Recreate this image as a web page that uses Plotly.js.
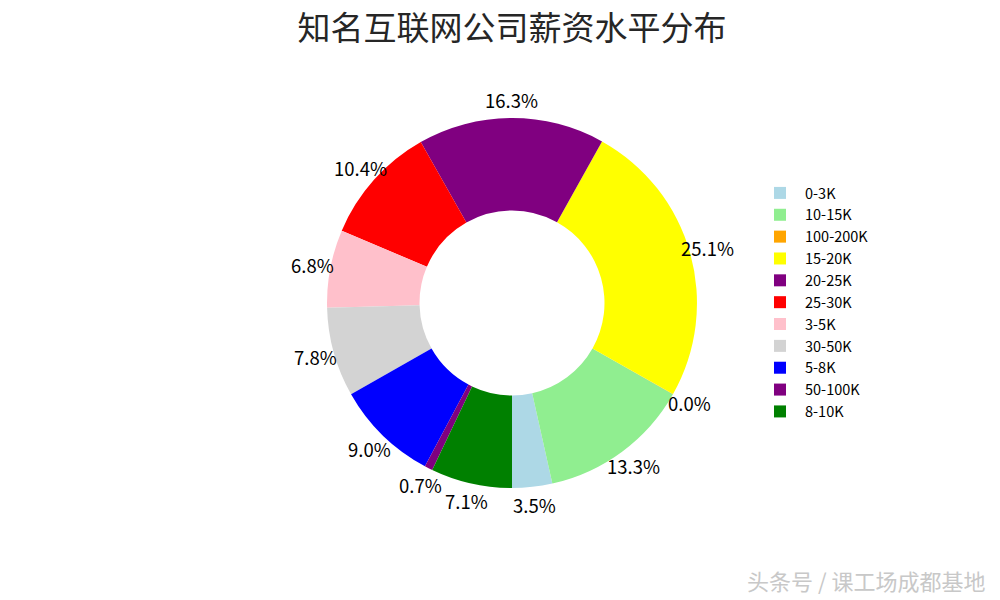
<!DOCTYPE html>
<html>
<head>
<meta charset="utf-8">
<script src="https://cdn.plot.ly/plotly-3.0.1.min.js"></script>
<style>html,body{margin:0;padding:0;background:#fff;}#chart{width:1000px;height:600px;}</style>
</head>
<body>
<div id="chart"></div>
<script>
const categories = ["0-3K","10-15K","100-200K","15-20K","20-25K","25-30K","3-5K","30-50K","5-8K","50-100K","8-10K"];
const shares = [3.5, 13.3, 0.02, 25.1, 16.3, 10.4, 6.8, 7.8, 9.0, 0.7, 7.1];
const sliceColors = ["#ADD8E6","#90EE90","#FFA500","#FFFF00","#800080","#FF0000","#FFC0CB","#D3D3D3","#0000FF","#800080","#008000"];
const chartTitle = "知名互联网公司薪资水平分布";
const watermark = "头条号 / 课工场成都基地";

const font = "'Noto Sans CJK SC', 'DejaVu Sans', sans-serif";
const W = 1000, H = 600;
const domainX = [0.327, 0.697], domainY = [0.1867, 0.8033];
const pctDistance = 1.1;

// Plotly's counterclockwise mode ends the first slice at the rotation angle;
// shift so the first slice starts at 6 o'clock (matplotlib startangle=-90).
const total = shares.reduce((a, b) => a + b, 0);
const startRotation = 180 - 360 * shares[0] / total;

const donut = {
  type: "pie",
  labels: categories,
  values: shares,
  sort: false,
  direction: "counterclockwise",
  rotation: startRotation,
  hole: 0.5,
  marker: {colors: sliceColors, line: {width: 0}},
  textinfo: "none",
  textposition: "none",
  automargin: false,
  domain: {x: domainX, y: domainY},
  showlegend: true,
  hoverinfo: "skip"
};

// percentage labels at 1.1 × radius on each slice's mid-angle (matplotlib pctdistance)
const cx = (domainX[0] + domainX[1]) / 2, cy = (domainY[0] + domainY[1]) / 2;
const rPx = Math.min((domainX[1] - domainX[0]) * W, (domainY[1] - domainY[0]) * H) / 2;
let cum = 0;
const pctLabels = shares.map(v => {
  const mid = -Math.PI / 2 + 2 * Math.PI * (cum + v / 2) / total;
  cum += v;
  return {
    text: (v / total * 100).toFixed(1) + "%",
    xref: "paper", yref: "paper",
    x: cx + pctDistance * rPx * Math.cos(mid) / W,
    y: cy + pctDistance * rPx * Math.sin(mid) / H,
    xanchor: "center", yanchor: "middle", showarrow: false,
    font: {family: font, size: 18.5, color: "#000"}
  };
});

const layout = {
  width: W, height: H,
  margin: {l: 0, r: 0, t: 0, b: 0},
  paper_bgcolor: "#fff",
  font: {family: font},
  title: {text: chartTitle, x: 0.512, xanchor: "center", y: 0.953, yanchor: "middle",
          font: {family: font, size: 33, color: "#262626"}},
  legend: {x: 0.755, y: 0.705, xanchor: "left", yanchor: "top",
           font: {family: font, size: 14.5, color: "#000"}, tracegroupgap: 0, itemwidth: 40},
  annotations: pctLabels.concat([{text: watermark, xref: "paper", yref: "paper", x: 0.987, y: 0.033,
                 xanchor: "right", yanchor: "middle", showarrow: false,
                 font: {family: font, size: 22, color: "#c8c8c8"}}])
};

Plotly.newPlot("chart", [donut], layout, {displayModeBar: false, staticPlot: true});
</script>
</body>
</html>
